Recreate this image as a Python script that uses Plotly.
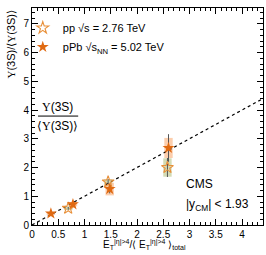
import plotly.graph_objects as go

# pp (open stars)
pp_x = [0.69, 1.45, 2.58]
pp_y = [0.58, 1.50, 2.00]
pp_stat = [0.05, 0.10, 0.33]
pp_syst = [0.06, 0.09, 0.32]

# pPb (filled stars)
ppb_x = [0.36, 0.78, 1.48, 2.60]
ppb_y = [0.40, 0.72, 1.25, 2.68]
ppb_stat = [0.05, 0.06, 0.15, 0.48]
ppb_syst = [0.05, 0.07, 0.22, 0.35]

line_x = [0.0, 4.4]
line_y = [0.0, 4.4]

box_w = 0.16

fig = go.Figure()

# systematic boxes
fig.add_trace(go.Bar(x=pp_x, y=[2 * s for s in pp_syst],
                     base=[y - s for y, s in zip(pp_y, pp_syst)],
                     width=box_w, marker=dict(color="rgba(175,190,120,0.55)", line_width=0),
                     showlegend=False, hoverinfo="skip"))
fig.add_trace(go.Bar(x=ppb_x, y=[2 * s for s in ppb_syst],
                     base=[y - s for y, s in zip(ppb_y, ppb_syst)],
                     width=box_w, marker=dict(color="rgba(250,165,105,0.55)", line_width=0),
                     showlegend=False, hoverinfo="skip"))

fig.add_trace(go.Scatter(x=line_x, y=line_y, mode="lines",
                         line=dict(color="black", width=1.2, dash="dot"),
                         showlegend=False, hoverinfo="skip"))

fig.add_trace(go.Scatter(x=pp_x, y=pp_y, mode="markers",
                         name="pp √s = 2.76 TeV",
                         marker=dict(symbol="star-open", size=9, color="#E8903A",
                                     line=dict(width=1.1, color="#E8903A")),
                         error_y=dict(type="data", array=pp_stat, color="#555555",
                                      thickness=1, width=0)))
fig.add_trace(go.Scatter(x=ppb_x, y=ppb_y, mode="markers",
                         name="pPb √s<sub>NN</sub> = 5.02 TeV",
                         marker=dict(symbol="star", size=9, color="#E06A12",
                                     line=dict(width=0)),
                         error_y=dict(type="data", array=ppb_stat, color="#555555",
                                      thickness=1, width=0)))

fnt = "Liberation Sans, Arial, sans-serif"
ups = '<span style="font-family:\'Liberation Serif\', serif">Υ</span>'

fig.update_layout(
    width=266, height=255,
    margin=dict(l=32, r=3, t=8, b=30),
    paper_bgcolor="white", plot_bgcolor="white",
    font=dict(family=fnt, size=10, color="black"),
    barmode="overlay",
    legend=dict(x=-0.04, y=0.975, xanchor="left", yanchor="top",
                bgcolor="rgba(0,0,0,0)", font=dict(size=11),
                tracegroupgap=0),
    xaxis=dict(range=[0, 4.4], dtick=0.5, tick0=0, ticks="inside", ticklen=6,
               tickcolor="black", showgrid=False, zeroline=False,
               showline=True, linecolor="black", linewidth=1, mirror="allticks",
               tickfont=dict(size=10),
               minor=dict(dtick=0.1, ticks="inside", ticklen=3, tickcolor="black")),
    yaxis=dict(range=[0, 7.55], dtick=1, tick0=0, ticks="inside", ticklen=6,
               tickcolor="black", showgrid=False, zeroline=False,
               showline=True, linecolor="black", linewidth=1, mirror="allticks",
               tickfont=dict(size=10),
               minor=dict(dtick=0.2, ticks="inside", ticklen=3, tickcolor="black")),
)

fig.add_annotation(xref="paper", yref="paper", x=-0.095, y=1.0, xanchor="center",
                   yanchor="top", textangle=-90, showarrow=False,
                   text=f"{ups}(3S)/⟨{ups}(3S)⟩", font=dict(size=11))
fig.add_annotation(xref="paper", yref="paper", x=0.11, y=0.544, showarrow=False,
                   xanchor="center", yanchor="middle",
                   text=f"{ups}(3S)", font=dict(size=12))
fig.add_annotation(xref="paper", yref="paper", x=0.11, y=0.458, showarrow=False,
                   xanchor="center", yanchor="middle",
                   text=f"⟨{ups}(3S)⟩", font=dict(size=12))
fig.add_shape(type="line", xref="paper", yref="paper", x0=0.026, x1=0.20,
              y0=0.502, y1=0.502, line=dict(color="black", width=1))

fig.add_annotation(xref="paper", yref="paper", x=0.66, y=0.19, showarrow=False,
                   xanchor="left", yanchor="middle", text="CMS", font=dict(size=12))
fig.add_annotation(xref="paper", yref="paper", x=0.66, y=0.09, showarrow=False,
                   xanchor="left", yanchor="middle",
                   text="|y<sub>CM</sub>| &lt; 1.93", font=dict(size=12))

fig.add_annotation(xref="paper", yref="paper", x=0.675, y=-0.128, showarrow=False,
                   xanchor="right", yanchor="bottom",
                   text="E<sub>T</sub><sup>|η|&gt;4</sup>/⟨ E<sub>T</sub><sup>|η|&gt;4</sup> ⟩<sub>total</sub>",
                   font=dict(size=10))

fig.write_html("out.html", post_script="document.body.style.margin='0';",
               config={"displayModeBar": False})
